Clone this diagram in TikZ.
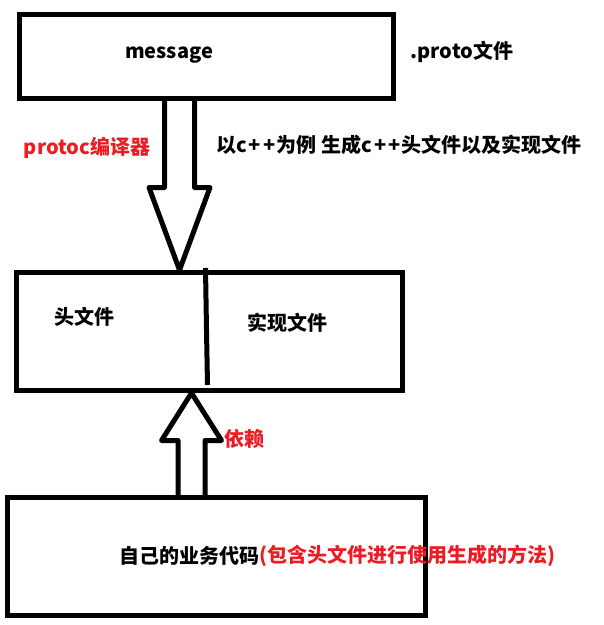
\documentclass[tikz,border=0pt]{standalone}
\usepackage{fontspec}
\newfontfamily\cjk{Noto Sans CJK SC}
\usetikzlibrary{calc}
\definecolor{notered}{RGB}{237,28,36}
\newcommand{\cpp}{c\kern2pt+\kern2.5pt+\kern1pt}
\tikzset{
    box/.style={draw=black, line width=5pt, inner sep=0pt},
    hollow/.style={draw=black, line width=5pt, line join=round},
    wall/.style={draw=black, line width=5pt},
    txt/.style={font=\cjk\bfseries\fontsize{20}{24}\selectfont, text=black, inner sep=0pt},
    redtxt/.style={txt, text=notered}
}
\begin{document}
\begin{tikzpicture}[x=1pt, y=-1pt]
    \useasboundingbox (0,0) rectangle (604,625);
    \fill[white] (0,0) rectangle (604,625);

    % the three boxes
    \node[box, minimum width=374pt, minimum height=84pt] (proto) at (206.5,56.5) {};
    \node[box, minimum width=386.5pt, minimum height=118pt] (header) at (209.25,331.5) {};
    \node[box, minimum width=418pt, minimum height=118pt] (code) at (216.5,556.5) {};
    \draw[wall] (205.5,268) -- (206.5,330) -- (207.5,385);

    % block arrows
    \coordinate (dn) at (179.5,0);
    \coordinate (up) at (191.5,0);
    \draw[hollow] ($(dn |- proto.south)+(-15,0)$) -- ++(0,86.5) -- ++(-15.5,0)
        -- (dn |- header.north) -- ($(dn |- proto.south)+(30.5,86.5)$) -- ++(-15.5,0) -- ++(0,-86.5);
    \draw[hollow] ($(up |- code.north)+(-13.5,0)$) -- ++(0,-54.5) -- ++(-16.5,0)
        -- (up |- header.south) -- ($(up |- code.north)+(30,-54.5)$) -- ++(-16.5,0) -- ++(0,54.5);

    % labels
    \node[txt] (message) at (169,55) {message};
    \node[txt] (protofile) at (462,52) {.proto文件};
    \node[redtxt] (protoc) at (87,148) {protoc编译器};
    \node[txt] (generate) at (399,145) {以\cpp 为例 生成\cpp 头文件以及实现文件};
    \node[txt] (headfile) at (84,317) {头文件};
    \node[txt] (implfile) at (287,323) {实现文件};
    \node[redtxt] (depend) at (244,439) {依赖};
    \node[txt, anchor=west] (owncode) at (119,556) {自己的业务代码};
    \node[redtxt, anchor=west] (usage) at (owncode.east) {(包含头文件进行使用生成的方法)};
\end{tikzpicture}
\end{document}
